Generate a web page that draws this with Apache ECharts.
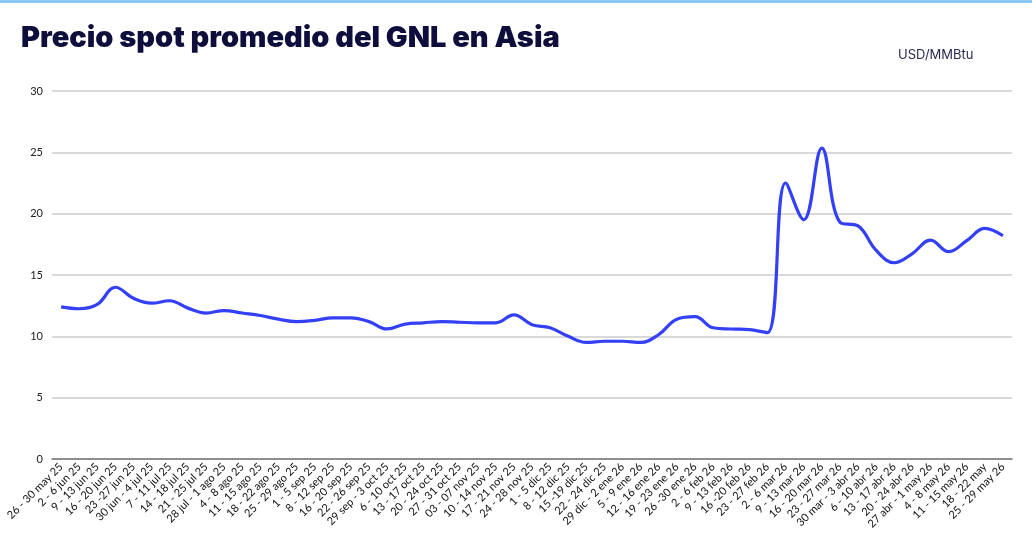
<!DOCTYPE html>
<html lang="es">
<head>
  <meta charset="UTF-8">
  <title>Precio spot promedio del GNL en Asia</title>
  <script src="https://cdn.jsdelivr.net/npm/echarts@6/dist/echarts.min.js"></script>
  <style>
    html, body { margin: 0; padding: 0; background: #fff; }
    #topbar { position: absolute; left: 0; top: 0; width: 1032px; height: 3px; background: #8cc8f4; }
    #main { width: 1032px; height: 560px; }
  </style>
</head>
<body>
  <div id="topbar"></div>
  <div id="main"></div>
  <script>
    // semanas
    var semanas = [
      "26 - 30 may 25", "2 - 6 jun 25", "9 - 13 jun 25", "16 - 20 jun 25", "23 -27 jun 25",
      "30 jun - 4 jul 25", "7 - 11 jul 25", "14 - 18 jul 25", "21 - 25 jul 25", "28 jul - 1 ago 25",
      "4 - 8 ago 25", "11 - 15 ago 25", "18 - 22 ago 25", "25 - 29 ago 25", "1 - 5 sep 25",
      "8 - 12 sep 25", "16 - 20 sep 25", "22 - 26 sep 25", "29 sep - 3 oct 25", "6 - 10 oct 25",
      "13 - 17 oct 25", "20 - 24 oct 25", "27 - 31 oct 25", "03 - 07 nov 25", "10 - 14 nov 25",
      "17 - 21 nov 25", "24 - 28 nov 25", "1 - 5 dic 25", "8 - 12 dic 25", "15 -19 dic 25",
      "22 - 24 dic 25", "29 dic - 2 ene 26", "5 - 9 ene 26", "12 - 16 ene 26", "19 - 23 ene 26",
      "26 -30 ene 26", "2 - 6 feb 26", "9 - 13 feb 26", "16 -20 feb 26", "23 - 27 feb 26",
      "2 - 6 mar 26", "9 - 13 mar 26", "16 - 20 mar 26", "23 - 27 mar 26", "30 mar - 3 abr 26",
      "6 - 10 abr 26", "13 - 17 abr 26", "20 - 24 abr 26", "27 abr - 1 may 26", "4 - 8 may 26",
      "11 - 15 may 26", "18 - 22 may", "25 - 29 may 26"
    ];
    // precio USD/MMBtu
    var precio = [
      12.4, 12.25, 12.6, 14.0, 13.1, 12.7, 12.9, 12.3, 11.9, 12.1,
      11.9, 11.7, 11.4, 11.2, 11.3, 11.5, 11.5, 11.2, 10.6, 11.0,
      11.1, 11.2, 11.15, 11.1, 11.1, 11.75, 10.95, 10.7, 10.0, 9.5,
      9.6, 9.6, 9.5, 10.15, 11.4, 11.6, 10.7, 10.6, 10.55, 10.3,
      22.5, 19.5, 25.35, 19.3, 19.0, 17.0, 16.0, 16.75, 17.85, 16.9,
      17.8, 18.8, 18.2
    ];
    var ejeY = { min: 0, max: 30, interval: 5 };

    var chart = echarts.init(document.getElementById("main"));
    var option = {
      animation: false,
      title: {
        text: "Precio spot promedio del GNL en Asia",
        left: 16,
        top: 19,
        textStyle: { fontFamily: "Inter", fontWeight: 900, fontSize: 29, color: "#0e0e3c" }
      },
      graphic: [{
        type: "text",
        left: 898,
        top: 49,
        style: { text: "USD/MMBtu", font: "13px Inter", fill: "#2a2a50" }
      }],
      grid: { left: 52, right: 20, top: 91, bottom: 101 },
      xAxis: {
        type: "category",
        data: semanas,
        boundaryGap: true,
        axisLine: { lineStyle: { color: "#777", width: 1.5 } },
        axisTick: { show: false },
        axisLabel: {
          interval: 0,
          rotate: 45,
          margin: 6,
          fontFamily: "Lato",
          fontSize: 11,
          color: "#111"
        }
      },
      yAxis: {
        type: "value",
        min: ejeY.min,
        max: ejeY.max,
        interval: ejeY.interval,
        axisLine: { show: false },
        axisTick: { show: false },
        axisLabel: { fontFamily: "Lato", fontSize: 11, color: "#222", margin: 9 },
        splitLine: { lineStyle: { color: "#cccccc", width: 1.5 } }
      },
      series: [{
        type: "line",
        data: precio,
        smooth: 0.4,
        showSymbol: false,
        lineStyle: { color: "#3340f5", width: 3.2 }
      }]
    };
    chart.setOption(option);
  </script>
</body>
</html>
